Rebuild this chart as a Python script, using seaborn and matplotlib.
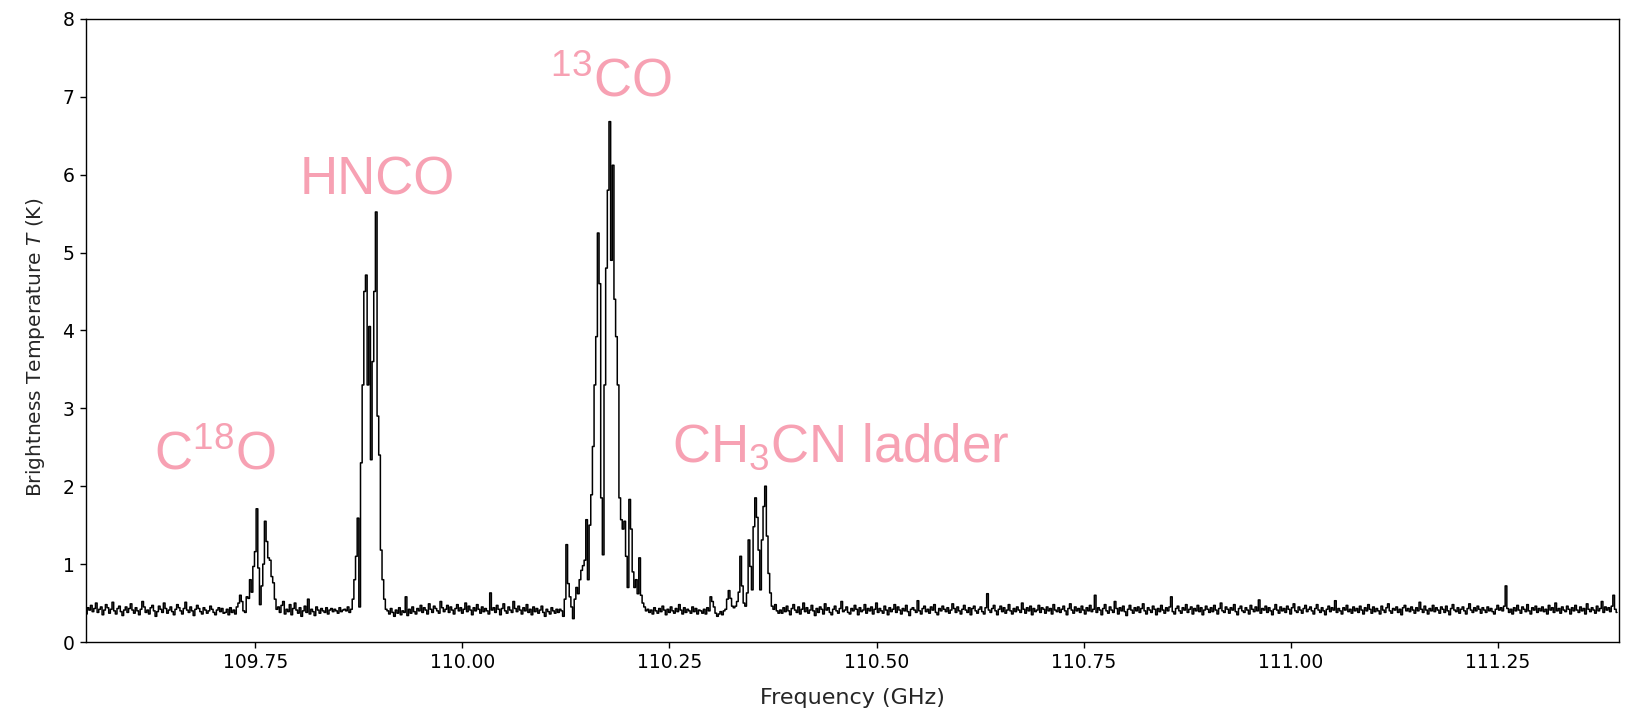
import numpy as np
import pandas as pd
import matplotlib
matplotlib.use("Agg")
import matplotlib.pyplot as plt
import seaborn as sns

# ---- data: spectrum channels (GHz grid start and channel width) ----
f_start = 109.546
d_chan = 0.002

base1 = [0.36,0.44,0.41,0.47,0.39,0.43,0.50,0.38,0.42,0.45,0.35,0.41,0.48,0.44,0.37,0.42,0.51,0.40,0.36,0.43,
         0.46,0.39,0.34,0.41,0.45,0.38,0.43,0.49,0.41,0.37,0.44,0.40,0.35,0.42,0.52,0.45,0.38,0.41,0.36,0.44,
         0.47,0.40,0.33,0.39,0.46,0.42,0.38,0.50,0.43,0.37,0.41,0.45,0.39,0.35,0.42,0.48,0.44,0.40,0.36,0.43,
         0.51,0.41,0.38,0.45,0.40,0.34,0.42,0.47,0.43,0.39,0.36,0.44,0.41,0.37,0.40,0.46,0.42,0.38,0.35,0.41,
         0.44,0.39,0.43,0.37]
c18o = [0.38,0.42,0.35,0.44,0.38,0.41,0.36,0.45,0.50,0.60,0.52,0.40,0.38,0.58,0.56,0.80,
        0.64,0.97,1.16,1.71,0.95,0.48,0.72,1.00,1.55,1.29,1.08,1.05,0.84,0.76,0.55,0.42]
base2 = [0.45,0.38,0.47,0.52,0.36,0.42,0.39,0.48,0.35,0.43,
         0.50,0.41,0.37,0.44,0.33,0.40,0.46,0.38,0.55,0.36,
         0.42,0.39,0.34,0.45,0.41,0.37,0.43,0.40,0.38,0.44,
         0.36,0.41,0.43,0.39,0.42,0.40,0.37,0.44,0.39,0.41]
hnco = [0.42,0.40,0.45,0.38,0.42,0.55,0.80,1.10,1.59,0.45,2.30,3.30,4.50,
        4.71,3.30,4.05,2.34,3.60,4.50,5.52,2.90,2.40,1.18,0.80,0.55,0.42]
base3 = [0.40,0.36,0.43,0.38,0.33,0.41,0.37,0.44,0.35,0.40,0.38,0.58,0.34,0.42,0.37,0.45,0.39,0.36,0.43,0.40,
         0.47,0.38,0.44,0.41,0.36,0.49,0.42,0.38,0.46,0.43,0.40,0.37,0.52,0.44,0.39,0.42,0.47,0.38,0.45,0.41,
         0.36,0.43,0.48,0.40,0.44,0.37,0.42,0.50,0.39,0.46,0.41,0.35,0.44,0.40,0.48,0.42,0.37,0.45,0.39,0.43,
         0.40,0.36,0.63,0.41,0.44,0.38,0.47,0.42,0.35,0.43,0.49,0.40,0.37,0.45,0.41,0.38,0.52,0.43,0.39,0.46,
         0.41,0.36,0.44,0.40,0.48,0.38,0.42,0.35,0.45,0.39,0.43,0.37,0.41,0.46,0.38,0.33,0.42,0.39,0.36,0.44,
         0.40,0.37,0.42,0.38]
co13 = [0.42,0.40,0.33,0.55,1.25,0.75,0.58,0.45,0.30,0.55,0.70,0.62,0.80,0.92,0.98,1.05,
        1.57,0.80,1.50,1.89,2.51,3.30,3.92,5.25,4.60,1.85,1.12,3.30,4.80,5.80,6.68,4.90,
        6.12,4.40,3.92,3.30,1.85,1.57,1.45,1.55,1.10,0.70,1.83,1.45,0.90,0.70,0.80,0.62,
        1.08,0.60,0.50,0.45,0.40]
base4 = [0.42,0.38,0.41,0.36,0.44,0.40,0.37,0.43,0.39,0.46,0.41,0.35,0.42,0.38,0.45,0.40,
         0.37,0.43,0.39,0.48,0.41,0.36,0.44,0.38,0.42,0.40,0.37,0.45,0.39,0.43,0.36,0.41]
ch3cn = [0.40,0.37,0.42,0.36,0.44,0.40,0.58,0.52,0.45,0.37,0.33,0.36,0.39,0.35,0.40,0.42,
         0.55,0.66,0.56,0.46,0.44,0.46,0.52,0.64,1.10,0.72,0.50,0.46,0.63,1.31,0.97,0.67,
         1.48,1.85,1.60,1.18,0.67,1.31,1.74,2.00,1.36,0.88,0.63,0.46,0.42,0.48,0.40,0.37]
base5 = [0.41,0.37,0.44,0.39,0.46,0.40,0.35,0.43,0.48,0.41,0.38,0.45,0.36,0.42,0.50,0.39,0.44,0.37,0.41,0.47,
         0.40,0.34,0.43,0.38,0.45,0.42,0.36,0.49,0.41,0.44,0.38,0.35,0.42,0.46,0.40,0.37,0.43,0.52,0.39,0.41,
         0.45,0.38,0.36,0.43,0.40,0.47,0.42,0.35,0.44,0.39,0.41,0.48,0.37,0.43,0.40,0.45,0.36,0.42,0.50,0.38,
         0.43,0.40,0.37,0.46,0.41,0.35,0.44,0.39,0.42,0.48,0.38,0.45,0.41,0.36,0.43,0.40,0.47,0.39,0.34,0.42,
         0.44,0.41,0.38,0.53,0.40,0.36,0.43,0.46,0.39,0.42,0.37,0.45,0.41,0.48,0.38,0.35,0.43,0.40,0.46,0.42,
         0.39,0.44,0.37,0.41,0.49,0.43,0.38,0.45,0.40,0.36,0.42,0.47,0.41,0.38,0.44,0.35,0.43,0.46,0.40,0.37,
         0.42,0.45,0.39,0.36,0.44,0.62,0.41,0.38,0.43,0.47,0.40,0.35,0.42,0.46,0.39,0.44,0.37,0.41,0.48,0.40,
         0.36,0.43,0.39,0.45,0.41,0.38,0.50,0.42,0.37,0.44,0.40,0.46,0.35,0.43,0.39,0.41,0.47,0.38,0.44,0.42,
         0.37,0.45,0.40,0.43,0.36,0.48,0.41,0.39,0.44,0.38,0.42,0.46,0.40,0.35,0.43,0.49,0.41,0.37,0.45,0.40,
         0.43,0.38,0.46,0.41,0.36,0.44,0.40,0.47,0.39,0.42,0.60,0.38,0.44,0.41,0.35,0.43,0.48,0.40,0.37,0.45,
         0.41,0.38,0.52,0.43,0.36,0.44,0.40,0.46,0.39,0.34,0.42,0.47,0.41,0.37,0.44,0.40,0.45,0.38,0.43,0.49,
         0.40,0.36,0.44,0.41,0.38,0.46,0.42,0.35,0.43,0.39,0.47,0.41,0.37,0.44,0.40,0.45,0.58,0.39,0.36,0.43,
         0.46,0.40,0.37,0.44,0.41,0.48,0.38,0.42,0.45,0.36,0.43,0.40,0.47,0.39,0.44,0.35,0.41,0.46,0.42,0.38,
         0.44,0.39,0.47,0.41,0.36,0.43,0.50,0.40,0.38,0.45,0.42,0.37,0.44,0.41,0.48,0.39,0.35,0.43,0.46,0.40,
         0.38,0.44,0.41,0.36,0.47,0.42,0.39,0.45,0.40,0.54,0.37,0.43,0.41,0.46,0.38,0.44,0.40,0.35,0.42,0.48,
         0.41,0.37,0.45,0.40,0.43,0.38,0.46,0.42,0.36,0.44,0.49,0.40,0.38,0.45,0.41,0.37,0.43,0.47,0.39,0.42,
         0.45,0.40,0.36,0.43,0.48,0.41,0.38,0.44,0.40,0.35,0.42,0.46,0.39,0.44,0.41,0.53,0.38,0.43,0.40,0.36,
         0.44,0.41,0.47,0.39,0.42,0.37,0.45,0.40,0.43,0.38,0.46,0.41,0.36,0.44,0.40,0.48,0.42,0.37,0.45,0.39,
         0.43,0.40,0.36,0.46,0.41,0.38,0.44,0.49,0.40,0.37,0.43,0.41,0.45,0.38,0.42,0.35,0.44,0.47,0.40,0.43,
         0.39,0.45,0.41,0.37,0.44,0.40,0.51,0.42,0.38,0.46,0.41,0.36,0.43,0.40,0.47,0.39,0.44,0.41,0.37,0.45,
         0.42,0.38,0.46,0.40,0.35,0.43,0.48,0.41,0.39,0.44,0.37,0.42,0.45,0.40,0.36,0.43,0.49,0.41,0.38,0.44,
         0.40,0.46,0.42,0.37,0.44,0.41,0.38,0.45,0.40,0.43,0.39,0.36,0.42,0.47,0.41,0.44,0.40,0.46,0.72,0.43,
         0.38,0.42,0.36,0.44,0.40,0.47,0.41,0.37,0.45,0.42,0.39,0.48,0.40,0.36,0.44,0.41,0.46,0.38,0.43,0.40,
         0.45,0.39,0.42,0.36,0.47,0.41,0.44,0.38,0.50,0.40,0.43,0.37,0.45,0.41,0.39,0.46,0.42,0.36,0.44,0.40,
         0.47,0.41,0.38,0.45,0.40,0.43,0.36,0.49,0.42,0.39,0.44,0.41,0.37,0.46,0.40,0.43,0.52,0.38,0.45,0.41,
         0.44,0.39,0.46,0.60,0.42,0.38]

line_labels = [r"C$^{\mathrm{18}}$O", "HNCO", r"$^{\mathrm{13}}$CO", r"CH$_{\mathrm{3}}$CN ladder"]
label_freq = [109.628, 109.804, 110.106, 110.253]
label_temp = [2.22, 5.74, 7.00, 2.31]

x_ticks = [109.75, 110.00, 110.25, 110.50, 110.75, 111.00, 111.25]
y_ticks = [0, 1, 2, 3, 4, 5, 6, 7, 8]

# ---- assemble ----
temps = np.array(base1 + c18o + base2 + hnco + base3 + co13 + base4 + ch3cn + base5)
freqs = f_start + d_chan * np.arange(len(temps))
df = pd.DataFrame({"Frequency": freqs, "T": temps})

sns.set_theme(style="ticks")
plt.rcParams["font.family"] = ["DejaVu Sans"]
plt.rcParams["mathtext.fontset"] = "custom"
plt.rcParams["mathtext.rm"] = "Liberation Sans"
plt.rcParams["mathtext.it"] = "DejaVu Sans:italic"

fig = plt.figure(figsize=(16.35, 7.12), dpi=100)
ax = fig.add_axes([0.0523, 0.0983, 0.990 - 0.0523, 0.9736 - 0.0983])

sns.lineplot(data=df, x="Frequency", y="T", ax=ax, color="black", linewidth=1.1,
             drawstyle="steps-mid", estimator=None, sort=False)

ax.set_xlim(109.545, 111.396)
ax.set_ylim(0, 8)
ax.set_xticks(x_ticks)
ax.set_xticklabels([f"{v:.2f}" for v in x_ticks])
ax.set_yticks(y_ticks)
ax.tick_params(axis="both", direction="out", length=4.5, width=1, labelsize=13.5, colors="black")
for s in ax.spines.values():
    s.set_color("black")
    s.set_linewidth(1.0)
ax.set_xlabel("Frequency (GHz)", fontsize=16)
ax.set_ylabel(r"Brightness Temperature $T$ (K)", fontsize=14.5)
ax.xaxis.set_label_coords(0.5, -0.074)
ax.yaxis.set_label_coords(-0.025, 0.472)
ax.grid(False)

pink = "#F7A1B3"
for lab, fx, ty in zip(line_labels, label_freq, label_temp):
    ax.text(fx, ty, lab, color=pink, fontsize=38, family="Liberation Sans",
            ha="left", va="baseline")

fig.savefig("out.png", dpi=100)
